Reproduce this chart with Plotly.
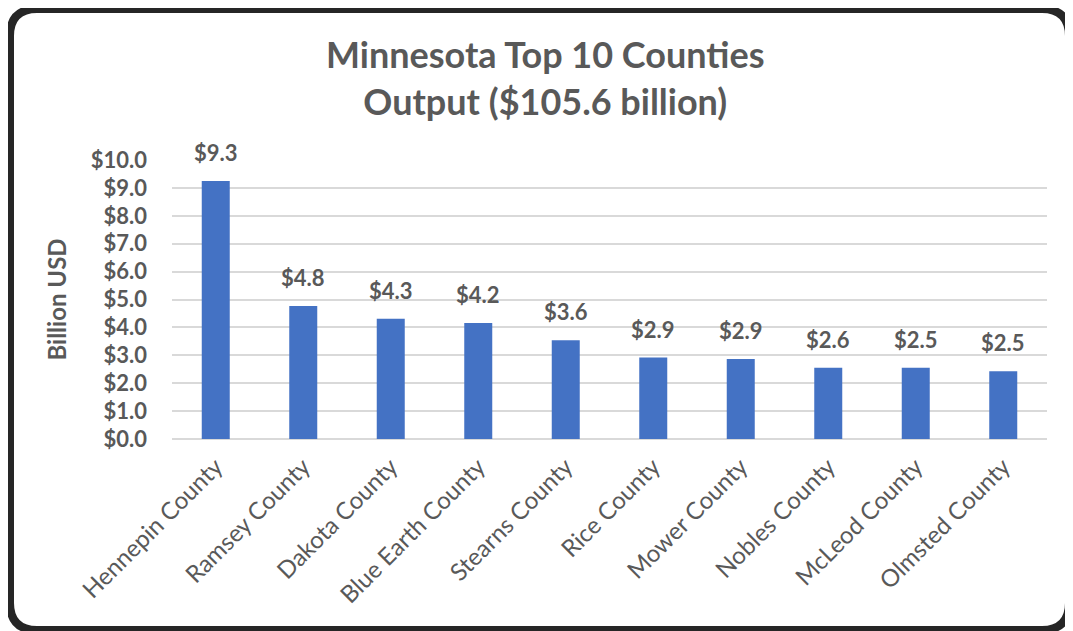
import plotly.graph_objects as go

counties = ["Hennepin County", "Ramsey County", "Dakota County", "Blue Earth County",
            "Stearns County", "Rice County", "Mower County", "Nobles County",
            "McLeod County", "Olmsted County"]
values = [9.25, 4.77, 4.31, 4.16, 3.54, 2.92, 2.87, 2.55, 2.55, 2.43]
value_labels = ["$9.3", "$4.8", "$4.3", "$4.2", "$3.6", "$2.9", "$2.9", "$2.6", "$2.5", "$2.5"]
tick_vals = [0, 1, 2, 3, 4, 5, 6, 7, 8, 9, 10]
tick_text = ["$0.0", "$1.0", "$2.0", "$3.0", "$4.0", "$5.0", "$6.0", "$7.0", "$8.0", "$9.0", "$10.0"]

# page has an 8px body margin, so the figure is offset by 8px
OFF = 8
W, H = 1073 - OFF, 631 - OFF
ML, MR = 172 - OFF, 1073 - 1047
MT, MB = 160 - OFF, 631 - 439
PW, PH = W - ML - MR, H - MT - MB

def px(x):  # screen pixel -> paper
    return (x - OFF - ML) / PW

def py(y):
    return (H - MB - (y - OFF)) / PH

FONT = "Lato"
GRAY = "#595959"

fig = go.Figure()
fig.add_trace(go.Bar(
    x=counties, y=values, width=0.32,
    marker=dict(color="#4472C4", line=dict(width=0)),
    cliponaxis=False,
))

for c, v, t in zip(counties, values, value_labels):
    fig.add_annotation(x=c, y=v, text=t, showarrow=False, xanchor="center",
                       yanchor="bottom", yshift=13,
                       font=dict(family=FONT, size=22, color=GRAY, weight="bold"))

# rounded frame
x0, x1, y0, y1, r = 10, 1069, 9, 630, 27
path = (f"M {px(x0 + r)},{py(y0)} L {px(x1 - r)},{py(y0)} "
        f"Q {px(x1)},{py(y0)} {px(x1)},{py(y0 + r)} "
        f"L {px(x1)},{py(y1 - r)} Q {px(x1)},{py(y1)} {px(x1 - r)},{py(y1)} "
        f"L {px(x0 + r)},{py(y1)} Q {px(x0)},{py(y1)} {px(x0)},{py(y1 - r)} "
        f"L {px(x0)},{py(y0 + r)} Q {px(x0)},{py(y0)} {px(x0 + r)},{py(y0)} Z")
fig.add_shape(type="path", path=path, xref="paper", yref="paper",
              line=dict(color="#262626", width=8), fillcolor="rgba(0,0,0,0)", layer="above")

fig.add_annotation(text="Minnesota Top 10 Counties<br>Output ($105.6 billion)",
                   xref="paper", yref="paper", x=px(545), y=py(78),
                   xanchor="center", yanchor="middle", showarrow=False,
                   font=dict(family=FONT, size=36, color=GRAY, weight="bold"))

fig.update_layout(
    width=W, height=H,
    margin=dict(l=ML, r=MR, t=MT, b=MB),
    paper_bgcolor="white", plot_bgcolor="white",
    showlegend=False,
)
fig.update_xaxes(
    tickangle=-45, showgrid=False, showline=False, ticks="", ticklabelstandoff=8,
    tickfont=dict(family=FONT, size=24, color=GRAY),
)
fig.update_yaxes(
    range=[0, 10], tickvals=tick_vals, ticktext=tick_text,
    showgrid=True, gridcolor="#d9d9d9", gridwidth=1.5,
    zeroline=True, zerolinecolor="#d9d9d9", zerolinewidth=1.5,
    showline=False, ticks="", ticklabelstandoff=24,
    tickfont=dict(family=FONT, size=22, color=GRAY, weight="bold"),
    title=dict(text="Billion USD", standoff=17,
               font=dict(family=FONT, size=24, color=GRAY, weight="bold")),
)

fig.write_html("out.html")
